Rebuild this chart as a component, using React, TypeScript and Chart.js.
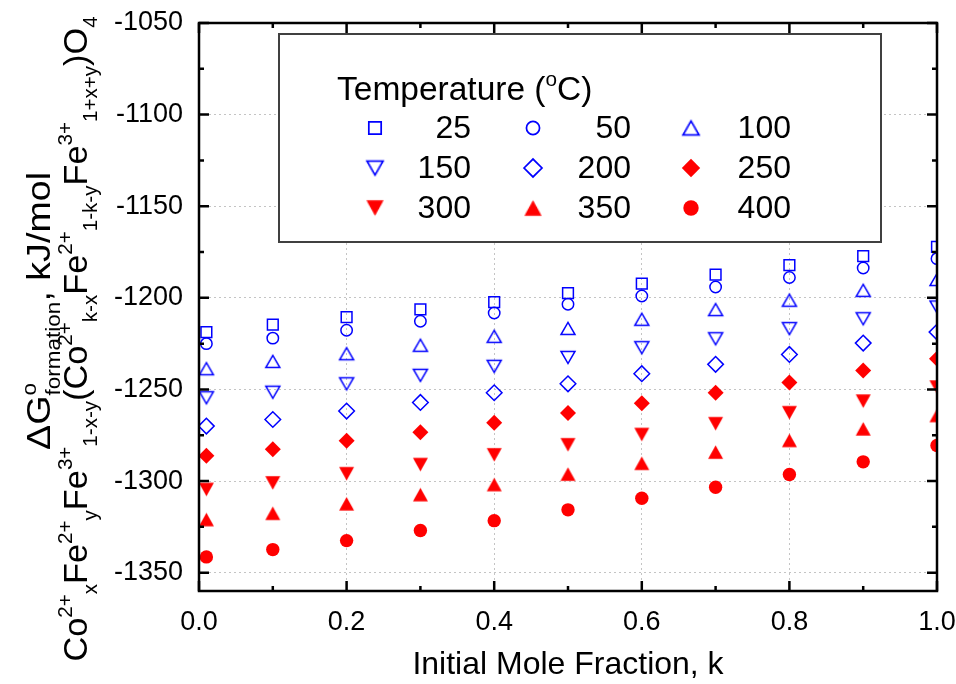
import React, { useEffect, useRef } from 'react';
import { Chart, registerables } from 'chart.js';
import { drawPoint } from 'chart.js/helpers';

Chart.register(...registerables);

// Initial mole fraction k of each spinel composition
const moleFraction = [0.01, 0.1, 0.2, 0.3, 0.4, 0.5, 0.6, 0.7, 0.8, 0.9, 1.0];

// Standard Gibbs energy of formation, kJ/mol, one list per temperature (°C)
const g25 = [-1218.7, -1214.6, -1210.5, -1206.3, -1202.3, -1197.4, -1192.2, -1187.3, -1182.2, -1177.3, -1172.2];
const g50 = [-1225.0, -1222.0, -1217.7, -1212.8, -1208.3, -1203.5, -1199.0, -1194.1, -1188.9, -1183.7, -1178.6];
const g100 = [-1238.7, -1234.7, -1230.5, -1225.9, -1221.0, -1216.7, -1211.7, -1206.4, -1201.3, -1195.9, -1190.0];
const g150 = [-1254.5, -1251.5, -1246.9, -1242.3, -1237.4, -1232.5, -1227.2, -1222.3, -1216.8, -1211.4, -1205.0];
const g200 = [-1270.0, -1266.4, -1261.8, -1257.1, -1251.8, -1246.9, -1241.4, -1236.3, -1230.9, -1224.7, -1218.7];
const g250 = [-1286.2, -1282.6, -1278.0, -1273.3, -1268.2, -1262.9, -1257.5, -1251.8, -1246.2, -1239.6, -1233.2];
const g300 = [-1304.6, -1301.0, -1296.0, -1291.0, -1285.7, -1280.2, -1274.6, -1268.7, -1262.7, -1256.4, -1248.7];
const g350 = [-1321.0, -1317.6, -1312.4, -1307.4, -1301.9, -1296.2, -1290.3, -1284.2, -1277.8, -1271.5, -1264.2];
const g400 = [-1341.4, -1337.4, -1332.5, -1327.0, -1321.6, -1315.7, -1309.4, -1303.4, -1296.4, -1289.5, -1280.6];

const temperatureLabels = ['25', '50', '100', '150', '200', '250', '300', '350', '400'];

// Axis ranges and tick spacing
const xMin = 0;
const xMax = 1.0;
const xMajorStep = 0.2;
const xMinorStep = 0.1;
const yMin = -1360;
const yMax = -1050;
const yMajorStep = 50;
const yMinorStep = 25;

const BLUE = '#0000ff';
const RED = '#ff0000';
const FONT = '"Liberation Sans", Arial, Helvetica, sans-serif';

type Run = { text: string; sup?: string; sub?: string; stacked?: boolean };

// Y-axis title, two lines (formula on the outer line)
const yTitleTop: Run[] = [
  { text: 'ΔG', sup: 'o', sub: 'formation', stacked: true },
  { text: ', kJ/mol' },
];
const yTitleBottom: Run[] = [
  { text: 'Co', sup: '2+', sub: 'x' },
  { text: 'Fe', sup: '2+', sub: 'y' },
  { text: 'Fe', sup: '3+', sub: '1-x-y' },
  { text: '(Co', sup: '2+', sub: 'k-x' },
  { text: 'Fe', sup: '2+', sub: '1-k-y' },
  { text: 'Fe', sup: '3+', sub: '1+x+y' },
  { text: ')O', sub: '4' },
];
const xTitle = 'Initial Mole Fraction, k';
const legendTitle: Run[] = [{ text: 'Temperature (', sup: 'o' }, { text: 'C)' }];

// Triangle markers centred on their bounding box
function triangleMarker(w: number, h: number, down: boolean, filled: boolean, color: string) {
  const pad = 2;
  const c = document.createElement('canvas');
  c.width = Math.ceil(w + pad * 2);
  c.height = Math.ceil(h + pad * 2);
  const g = c.getContext('2d')!;
  const cx = c.width / 2;
  const cy = c.height / 2;
  g.beginPath();
  if (down) {
    g.moveTo(cx - w / 2, cy - h / 2);
    g.lineTo(cx + w / 2, cy - h / 2);
    g.lineTo(cx, cy + h / 2);
  } else {
    g.moveTo(cx - w / 2, cy + h / 2);
    g.lineTo(cx + w / 2, cy + h / 2);
    g.lineTo(cx, cy - h / 2);
  }
  g.closePath();
  if (filled) {
    g.fillStyle = color;
    g.fill();
  } else {
    g.strokeStyle = color;
    g.lineWidth = 1.5;
    g.stroke();
  }
  return c;
}

function drawRich(
  ctx: CanvasRenderingContext2D,
  runs: Run[],
  x: number,
  y: number,
  size: number,
  opts: { rotate?: boolean; align?: 'left' | 'center'; scale?: number; supShift?: number; subShift?: number; stretch?: number }
) {
  const scale = opts.scale ?? 0.6;
  const small = size * scale;
  const supShift = (opts.supShift ?? 0.42) * size;
  const subShift = (opts.subShift ?? 0.28) * size;
  const stretch = opts.stretch ?? 1;
  const big = `${size}px ${FONT}`;
  const sm = `${small}px ${FONT}`;
  const widths = runs.map((r) => {
    ctx.font = big;
    const m = ctx.measureText(r.text).width;
    ctx.font = sm;
    const su = r.sup ? ctx.measureText(r.sup).width : 0;
    const sb = r.sub ? ctx.measureText(r.sub).width : 0;
    return { m, su, sb, adv: m + (r.stacked ? Math.max(su, sb) : su + sb) };
  });
  const total = widths.reduce((s, w) => s + w.adv, 0);
  ctx.save();
  ctx.translate(x, y);
  if (opts.rotate) ctx.rotate(-Math.PI / 2);
  ctx.scale(stretch, 1);
  ctx.textAlign = 'left';
  ctx.textBaseline = 'alphabetic';
  let cx = opts.align === 'center' ? -total / 2 : 0;
  runs.forEach((r, i) => {
    const w = widths[i];
    ctx.font = big;
    ctx.fillText(r.text, cx, 0);
    cx += w.m;
    ctx.font = sm;
    if (r.sup) ctx.fillText(r.sup, cx, -supShift);
    if (r.sub) ctx.fillText(r.sub, r.stacked ? cx : cx + w.su, subShift);
    cx += r.stacked ? Math.max(w.su, w.sb) : w.su + w.sb;
  });
  ctx.restore();
}

const decorPlugin = {
  id: 'decor',
  beforeDraw(chart: Chart) {
    const { ctx, width, height } = chart;
    ctx.save();
    ctx.fillStyle = '#ffffff';
    ctx.fillRect(0, 0, width, height);
    ctx.restore();
  },
  afterDatasetsDraw(chart: Chart) {
    const { ctx, chartArea: a } = chart;
    const xs = chart.scales.x;
    const ys = chart.scales.y;
    ctx.save();
    ctx.strokeStyle = '#000';
    ctx.lineWidth = 2.5;
    ctx.lineCap = 'butt';

    // inward ticks on all four sides
    const nx = Math.round((xMax - xMin) / xMinorStep);
    const perMajor = Math.round(xMajorStep / xMinorStep);
    for (let i = 0; i <= nx; i++) {
      const v = xMin + i * xMinorStep;
      const len = i % perMajor === 0 ? 10 : 5;
      const px = xs.getPixelForValue(v);
      ctx.beginPath();
      ctx.moveTo(px, a.bottom);
      ctx.lineTo(px, a.bottom - len);
      ctx.moveTo(px, a.top);
      ctx.lineTo(px, a.top + len);
      ctx.stroke();
    }
    const firstY = Math.ceil(yMin / yMinorStep) * yMinorStep;
    for (let v = firstY; v <= yMax; v += yMinorStep) {
      const len = v % yMajorStep === 0 ? 10 : 5;
      const py = ys.getPixelForValue(v);
      ctx.beginPath();
      ctx.moveTo(a.left, py);
      ctx.lineTo(a.left + len, py);
      ctx.moveTo(a.right, py);
      ctx.lineTo(a.right - len, py);
      ctx.stroke();
    }
    // plot frame
    ctx.strokeRect(a.left, a.top, a.right - a.left, a.bottom - a.top);

    // legend box
    const lb = { l: 279, t: 34, r: 881, b: 242 };
    ctx.fillStyle = '#ffffff';
    ctx.fillRect(lb.l, lb.t, lb.r - lb.l, lb.b - lb.t);
    ctx.strokeStyle = '#404040';
    ctx.lineWidth = 2;
    ctx.strokeRect(lb.l, lb.t, lb.r - lb.l, lb.b - lb.t);

    ctx.fillStyle = '#000';
    drawRich(ctx, legendTitle, 337, 100, 33.5, { align: 'left', scale: 0.62, supShift: 0.42 });

    const colMarkerX = [375, 533, 691];
    const colLabelRight = [471, 631, 791];
    const rowY = [128, 168, 208];
    chart.data.datasets.forEach((ds: any, i: number) => {
      const col = i % 3;
      const row = Math.floor(i / 3);
      const mx = colMarkerX[col];
      const my = rowY[row];
      ctx.save();
      ctx.fillStyle = ds.backgroundColor;
      ctx.strokeStyle = ds.borderColor;
      ctx.lineWidth = ds.borderWidth;
      ctx.translate(mx, my);
      ctx.scale(1.15, 1.15);
      drawPoint(ctx, { pointStyle: ds.pointStyle, radius: ds.pointRadius, rotation: 0, borderWidth: ds.borderWidth }, 0, 0);
      ctx.restore();
      ctx.fillStyle = '#000';
      ctx.font = `32px ${FONT}`;
      ctx.textAlign = 'right';
      ctx.textBaseline = 'middle';
      ctx.fillText(temperatureLabels[i], colLabelRight[col], my + 1);
    });

    // axis titles
    ctx.fillStyle = '#000';
    ctx.font = `32px ${FONT}`;
    ctx.textAlign = 'center';
    ctx.textBaseline = 'alphabetic';
    ctx.fillText(xTitle, (a.left + a.right) / 2, 674);

    drawRich(ctx, yTitleTop, 50, 311, 33, { rotate: true, align: 'center', scale: 0.6, supShift: 0.42, subShift: 0.3, stretch: 1.14 });
    drawRich(ctx, yTitleBottom, 87, 339, 33, { rotate: true, align: 'center', scale: 0.6, supShift: 0.45, subShift: 0.3, stretch: 1.04 });
    ctx.restore();
  },
};

function noScalePadding(s: any) {
  s.paddingTop = 0;
  s.paddingBottom = 0;
  s.paddingLeft = 0;
  s.paddingRight = 0;
}

export default function App() {
  const canvasRef = useRef<HTMLCanvasElement | null>(null);

  useEffect(() => {
    const canvas = canvasRef.current;
    if (!canvas) return;

    const blueUp = triangleMarker(14, 12.2, false, false, BLUE);
    const blueDown = triangleMarker(14, 12.2, true, false, BLUE);
    const redUp = triangleMarker(15, 13.5, false, true, RED);
    const redDown = triangleMarker(15, 13.5, true, true, RED);

    const series = [
      { v: g25, style: 'rect', r: 7.6, fill: 'rgba(0,0,0,0)', color: BLUE, bw: 1.5 },
      { v: g50, style: 'circle', r: 5.7, fill: 'rgba(0,0,0,0)', color: BLUE, bw: 1.5 },
      { v: g100, style: blueUp, r: 7, fill: 'rgba(0,0,0,0)', color: BLUE, bw: 1.5 },
      { v: g150, style: blueDown, r: 7, fill: 'rgba(0,0,0,0)', color: BLUE, bw: 1.5 },
      { v: g200, style: 'rectRot', r: 7.8, fill: 'rgba(0,0,0,0)', color: BLUE, bw: 1.5 },
      { v: g250, style: 'rectRot', r: 8, fill: RED, color: RED, bw: 0 },
      { v: g300, style: redDown, r: 7.5, fill: RED, color: RED, bw: 0 },
      { v: g350, style: redUp, r: 7.5, fill: RED, color: RED, bw: 0 },
      { v: g400, style: 'circle', r: 6.7, fill: RED, color: RED, bw: 0 },
    ];

    const chart = new Chart(canvas, {
      type: 'scatter',
      data: {
        datasets: series.map((s, i) => ({
          label: temperatureLabels[i],
          data: moleFraction.map((k, j) => ({ x: k, y: s.v[j] })),
          pointStyle: s.style as any,
          pointRadius: s.r,
          pointHoverRadius: s.r,
          backgroundColor: s.fill,
          borderColor: s.color,
          borderWidth: s.bw,
          showLine: false,
        })),
      },
      options: {
        animation: false,
        responsive: true,
        maintainAspectRatio: false,
        events: [],
        layout: { padding: { top: 23, right: 19, left: 0, bottom: 0 } },
        plugins: {
          legend: { display: false },
          tooltip: { enabled: false },
          title: { display: false },
        },
        scales: {
          x: {
            type: 'linear',
            min: xMin,
            max: xMax,
            afterFit: (s: any) => {
              s.height = 93;
              noScalePadding(s);
            },
            ticks: {
              stepSize: xMajorStep,
              includeBounds: false,
              padding: 15,
              color: '#000',
              font: { family: FONT, size: 27 },
              maxRotation: 0,
              callback: (v: any) => Number(v).toFixed(1),
            },
            grid: { color: '#c4c4c4', lineWidth: 1, drawTicks: false },
            border: { display: false, dash: [2, 3] },
          },
          y: {
            type: 'linear',
            min: yMin,
            max: yMax,
            afterFit: (s: any) => {
              s.width = 199;
              noScalePadding(s);
            },
            ticks: {
              stepSize: yMajorStep,
              includeBounds: false,
              padding: 16,
              color: '#000',
              font: { family: FONT, size: 27 },
              callback: (v: any) => String(v),
            },
            grid: { color: '#c4c4c4', lineWidth: 1, drawTicks: false },
            border: { display: false, dash: [2, 3] },
          },
        },
      },
      plugins: [decorPlugin],
    });

    return () => chart.destroy();
  }, []);

  return (
    <div style={{ position: 'absolute', left: 0, top: 0, width: 956, height: 684, background: '#fff' }}>
      <canvas ref={canvasRef} width={956} height={684} />
    </div>
  );
}
